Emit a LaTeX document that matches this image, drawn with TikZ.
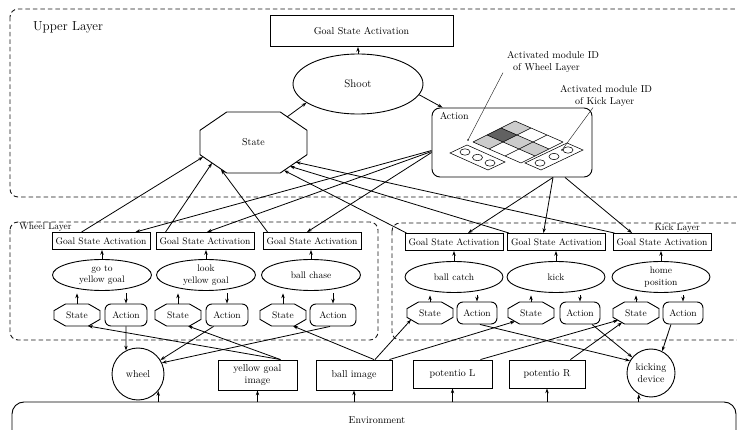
\documentclass[tikz,border=0pt]{standalone}
\usepackage{fontspec}
\usetikzlibrary{shapes.geometric,arrows.meta,calc}
\tikzset{
  ln/.style={line width=0.8pt, draw=black},
  arr/.style={ln, -{Stealth[length=4.8pt,width=3.4pt]}},
  leader/.style={line width=0.45pt, draw=black!85},
  layer/.style={draw=black!90, line width=0.9pt, dash pattern=on 4.5pt off 3pt, rounded corners=8pt},
  gsa/.style={draw, line width=0.9pt, rectangle, minimum width=98pt, minimum height=17pt, inner sep=0pt, font=\fontsize{9.5}{11}\selectfont},
  behav/.style={draw, line width=0.9pt, ellipse, minimum width=99pt, minimum height=31pt, inner sep=0pt, align=center, font=\fontsize{9.5}{11.5}\selectfont},
  actbox/.style={draw, line width=0.9pt, rectangle, rounded corners=6pt, minimum width=42pt, minimum height=22pt, inner sep=0pt, font=\fontsize{9.5}{11}\selectfont},
  octcore/.style={rectangle, outer sep=0pt, inner sep=0pt},
  sensor/.style={draw, line width=0.9pt, rectangle, inner sep=0pt, align=center},
  effector/.style={draw, line width=0.9pt, circle, inner sep=0pt, align=center},
  cellgrid/.style={line width=0.55pt, draw=black},
}
% octagonal node: name, position, width, height, text
\newcommand\octnode[5]{%
  \node[octcore, minimum width=#3, minimum height=#4] (#1) at #2 {#5};
  \draw[line width=0.9pt]
    ($(#1.north west)+(0.25*#3,0pt)$) -- ($(#1.north east)+(-0.25*#3,0pt)$)
    -- ($(#1.north east)+(0pt,-0.3*#4)$) -- ($(#1.south east)+(0pt,0.3*#4)$)
    -- ($(#1.south east)+(-0.25*#3,0pt)$) -- ($(#1.south west)+(0.25*#3,0pt)$)
    -- ($(#1.south west)+(0pt,0.3*#4)$) -- ($(#1.north west)+(0pt,-0.3*#4)$) -- cycle;
}
\begin{document}
\begin{tikzpicture}[x=1pt,y=-1pt]
\useasboundingbox (0,0) rectangle (737,430);
\clip (0,0) rectangle (737,430);
\fill[white] (0,0) rectangle (737,430);

% layer frames
\draw[layer] (10,9) rectangle (760,197);
\draw[layer] (10,222) rectangle (378,340);
\draw[layer] (392,223) rectangle (760,340);
\node[font=\fontsize{13}{15}\selectfont, anchor=west, inner sep=0pt] (upname) at (33,27) {Upper Layer};
\node[anchor=west, inner sep=0pt, font=\fontsize{9.5}{11}\selectfont] (wheelname) at (19,227) {Wheel Layer};
\node[anchor=east, inner sep=0pt, font=\fontsize{9.5}{11}\selectfont] (kickname) at (700,228) {Kick Layer};

% upper layer
\node[draw, line width=0.9pt, minimum width=183pt, minimum height=31pt, inner sep=0pt] (gsaU) at (361.5,31) {Goal State Activation};
\node[draw, ellipse, line width=0.9pt, minimum width=130pt, minimum height=60pt, font=\fontsize{11}{13}\selectfont] (shoot) at (358,84) {Shoot};
\octnode{stateU}{(253.5,142.5)}{107pt}{61pt}{State}
\node[draw, line width=0.9pt, rounded corners=8pt, minimum width=160pt, minimum height=69pt] (actU) at (512,142.5) {};
\node[anchor=north west, inner sep=0pt] (actname) at ($(actU.north west)+(8pt,-5pt)$) {Action};

% module activation map
\begin{scope}[shift={(473,142)}, x={(14pt,7pt)}, y={(16pt,-7pt)}]
  \fill[black!20] (0,0) -- (1,0) -- (1,1) -- (0,1) -- cycle;
  \fill[black!20] (2,0) -- (3,0) -- (3,1) -- (2,1) -- cycle;
  \fill[black!20] (1,1) -- (2,1) -- (2,2) -- (1,2) -- cycle;
  \fill[black!20] (1,2) -- (2,2) -- (2,3) -- (1,3) -- cycle;
  \fill[black!62] (1,0) -- (2,0) -- (2,1) -- (1,1) -- cycle;
  \foreach \k in {0,...,3} {
    \draw[cellgrid] (\k,0) -- (\k,3);
    \draw[cellgrid] (0,\k) -- (3,\k);
  }
\end{scope}
\draw[cellgrid] (450,153) -- (467,145) -- (505,162) -- (488,170) -- cycle;
\foreach \c in {(465,152),(477.5,157.5),(490,163)}
  \draw[cellgrid] \c ellipse [x radius=5pt, y radius=3.2pt];
\draw[cellgrid] (525,163) -- (567,143) -- (583,150) -- (541,170) -- cycle;
\foreach \c in {(540,163),(554,156.5),(568,150)}
  \draw[cellgrid] \c ellipse [x radius=5pt, y radius=3.2pt];

\node[align=left, anchor=north west, inner sep=0pt] (lblW) at (507,51) {Activated module ID\\\hspace*{6pt}of Wheel Layer};
\node[align=left, anchor=north west, inner sep=0pt] (lblK) at (560,85) {Activated module ID\\\hspace*{15pt}of Kick Layer};
\coordinate (wheelslot) at (468,140);
\coordinate (kickslot) at (562,150);
\draw[leader] ($(lblW.south west)+(-4pt,0pt)$) -- (wheelslot);
\fill (wheelslot) circle (0.8pt);
\draw[leader] ($(lblK.south west)+(33pt,-1pt)$) -- (kickslot);
\fill (kickslot) circle (0.8pt);

\draw[arr] (shoot.north) -- (shoot.north |- gsaU.south);
\draw[arr] ($(stateU.north east)+(-20pt,-5pt)$) -- (shoot.200);
\draw[arr] (shoot.-10) -- ($(actU.north west)+(11pt,0pt)$);

% wheel layer modules
\node[gsa] (gsaW1) at (101,241) {Goal State Activation};
\node[gsa] (gsaW2) at (205,241) {Goal State Activation};
\node[gsa] (gsaW3) at (312,241) {Goal State Activation};
\node[behav] (eW1) at (102,275) {go to\\yellow goal};
\node[behav] (eW2) at (206,275) {look\\yellow goal};
\node[behav] (eW3) at (311,275) {ball chase};
\octnode{sW1}{(77,315)}{46pt}{22pt}{\fontsize{9.5}{11}\selectfont State}
\octnode{sW2}{(178,315)}{46pt}{22pt}{\fontsize{9.5}{11}\selectfont State}
\octnode{sW3}{(283,315)}{46pt}{22pt}{\fontsize{9.5}{11}\selectfont State}
\node[actbox] (aW1) at (126,315) {Action};
\node[actbox] (aW2) at (227,315) {Action};
\node[actbox, minimum width=46pt] (aW3) at (333,315) {Action};

% kick layer modules
\node[gsa] (gsaK1) at (454,242) {Goal State Activation};
\node[gsa] (gsaK2) at (556.5,242) {Goal State Activation};
\node[gsa] (gsaK3) at (662,242) {Goal State Activation};
\node[behav, minimum width=98pt] (eK1) at (454,277) {ball catch};
\node[behav, minimum width=98pt] (eK2) at (556,277) {kick};
\node[behav, minimum width=98pt] (eK3) at (661,277) {home\\position};
\octnode{sK1}{(430,313)}{46pt}{22pt}{\fontsize{9.5}{11}\selectfont State}
\octnode{sK2}{(531,313)}{46pt}{22pt}{\fontsize{9.5}{11}\selectfont State}
\octnode{sK3}{(636,313)}{46pt}{22pt}{\fontsize{9.5}{11}\selectfont State}
\node[actbox, minimum width=40pt] (aK1) at (477,313) {Action};
\node[actbox, minimum width=40pt] (aK2) at (580,313) {Action};
\node[actbox, minimum width=40pt] (aK3) at (683,313) {Action};

% links inside each module
\foreach \m in {W1,W2,W3,K1,K2,K3} {
  \draw[arr] (e\m.north) -- (e\m.north |- gsa\m.south);
  \draw[arr, shorten >=2.4pt] (s\m.north) -- (s\m.north |- e\m.south);
  \draw[arr, shorten <=2.4pt] (a\m.north |- e\m.south) -- (a\m.north);
}

% sensors, effectors and environment
\node[effector, minimum size=52pt] (wheel) at (138,374) {wheel};
\node[sensor, minimum width=79pt, minimum height=30pt] (yimg) at (257.5,375) {yellow goal\\image};
\node[sensor, minimum width=76pt, minimum height=30pt] (ball) at (354,375) {ball image};
\node[sensor, minimum width=79pt, minimum height=28pt] (potL) at (452.5,374) {potentio L};
\node[sensor, minimum width=76pt, minimum height=28pt] (potR) at (547,374) {potentio R};
\node[effector, minimum size=48pt] (kd) at (651,373) {kicking\\device};
\node[draw, line width=0.9pt, rounded corners=12pt, minimum width=724pt, minimum height=48pt] (env) at (374,426) {};
\node[inner sep=0pt] (envname) at (377,420) {Environment};

% upward links to the upper state
\draw[arr] ($(gsaW1.north west)+(30pt,0pt)$) -- ($(stateU.south west)+(3pt,16pt)$);
\draw[arr] ($(gsaW2.north west)+(10pt,0pt)$) -- ($(stateU.south west)+(12pt,10pt)$);
\draw[arr] ($(gsaW3.north west)+(5pt,0pt)$) -- ($(stateU.south west)+(21pt,3.5pt)$);
\draw[arr] ($(gsaK1.north west)+(2pt,0pt)$) -- ($(stateU.south east)+(-23pt,2.6pt)$);
\draw[arr] ($(gsaK2.north west)+(2pt,0pt)$) -- ($(stateU.south east)+(-17pt,6.7pt)$);
\draw[arr] ($(gsaK3.north west)+(2pt,0pt)$) -- ($(stateU.south east)+(-11pt,10.8pt)$);

% downward links from the upper action
\draw[arr] ($(actU.west)+(0pt,-8pt)$) -- ($(gsaW1.north east)+(-15pt,0pt)$);
\draw[arr] ($(actU.west)+(0pt,-9pt)$) -- ($(gsaW2.north)+(2pt,0pt)$);
\draw[arr] ($(actU.west)+(0pt,-10pt)$) -- ($(gsaW3.north)+(-5pt,0pt)$);
\draw[arr] ($(actU.south)+(41pt,0pt)$) -- ($(gsaK1.north)+(14pt,0pt)$);
\draw[arr] ($(actU.south)+(41pt,0pt)$) -- ($(gsaK2.north)+(-13pt,0pt)$);
\draw[arr] ($(actU.south)+(53pt,0pt)$) -- ($(gsaK3.north)+(-30pt,0pt)$);

% modules to effectors, sensors to modules
\draw[arr] (aW1.south) -- (wheel.117);
\draw[arr] ($(aW2.south west)+(8pt,0pt)$) -- (wheel.32);
\draw[arr] ($(aW3.south)+(-3pt,0pt)$) -- (wheel.25);
\draw[arr] ($(yimg.north east)+(-17pt,0pt)$) -- ($(sW1.south)+(11pt,0pt)$);
\draw[arr] ($(yimg.north east)+(-17pt,0pt)$) -- ($(sW2.south)+(10pt,0pt)$);
\draw[arr] ($(ball.north)+(20pt,0pt)$) -- ($(sW3.south)+(10pt,0pt)$);
\draw[arr] ($(ball.north)+(21pt,0pt)$) -- ($(sK1.south west)+(4pt,4.3pt)$);
\draw[arr] ($(ball.north east)+(-3pt,0pt)$) -- ($(sK2.south west)+(7pt,2.6pt)$);
\draw[arr] ($(potL.north east)+(-12pt,0pt)$) -- ($(sK3.south west)+(5pt,3.7pt)$);
\draw[arr] ($(potR.north east)+(-15pt,0pt)$) -- ($(sK3.south west)+(9pt,1.4pt)$);
\draw[arr] ($(aK1.south)+(3pt,0pt)$) -- (kd.150);
\draw[arr] ($(aK2.south)+(12pt,0pt)$) -- (kd.140);
\draw[arr] ($(aK3.south)+(-12pt,0pt)$) -- (kd.63);

% environment links
\draw[arr] (wheel.-40 |- env.north) -- (wheel.-40);
\draw[arr] (yimg.south |- env.north) -- (yimg.south);
\draw[arr] (ball.south |- env.north) -- (ball.south);
\draw[arr] (potL.south |- env.north) -- (potL.south);
\draw[arr] (potR.south |- env.north) -- (potR.south);
\draw[arr] (kd.-120 |- env.north) -- (kd.-120);
\end{tikzpicture}
\end{document}
